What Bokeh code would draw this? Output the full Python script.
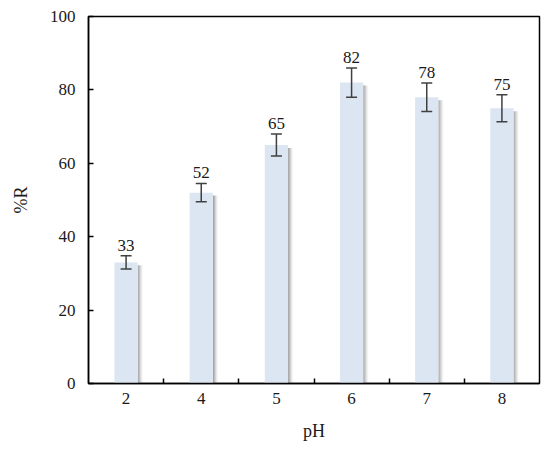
from bokeh.plotting import figure
from bokeh.models import ColumnDataSource, FixedTicker, Range1d, Whisker
from bokeh.core.properties import value
from bokeh.embed import file_html
from bokeh.resources import INLINE

ph_labels = ["2", "4", "5", "6", "7", "8"]
removal = [33, 52, 65, 82, 78, 75]
errors = [1.8, 2.5, 3.0, 4.0, 3.9, 3.7]
y_ticks = [0, 20, 40, 60, 80, 100]

xs = [i + 0.5 for i in range(len(ph_labels))]
upper = [v + e for v, e in zip(removal, errors)]
lower = [v - e for v, e in zip(removal, errors)]
src = ColumnDataSource(dict(x=xs, top=removal, upper=upper, lower=lower,
                            label=[str(v) for v in removal]))

FONT = "Liberation Serif"

p = figure(width=541, height=450, output_backend="svg", toolbar_location=None,
           x_range=Range1d(0, len(ph_labels)), y_range=Range1d(0, 100),
           min_border_left=88, min_border_right=2, min_border_top=16, min_border_bottom=67)

bw = 0.31
px = 1.0 / 75.0
# shadow
for k, a in enumerate([0.75, 0.55, 0.35, 0.18, 0.07]):
    sx = [x + bw / 2 + (k + 0.5) * px for x in xs]
    stop = [v - 0.8 for v in removal]
    p.vbar(x=sx, top=stop, width=px, bottom=0, fill_color="#7f7f7f", fill_alpha=a,
           line_color=None)

p.vbar(x="x", top="top", width=bw, source=src, fill_color="#dce6f2", line_color=None)

wh = Whisker(base="x", upper="upper", lower="lower", source=src,
             line_color="#404040", line_width=1.5, level="overlay")
wh.upper_head.line_color = "#404040"
wh.lower_head.line_color = "#404040"
wh.upper_head.line_width = 1.5
wh.lower_head.line_width = 1.5
wh.upper_head.size = 11
wh.lower_head.size = 11
p.add_layout(wh)

p.text(x="x", y="upper", text="label", source=src, text_align="center",
       text_baseline="bottom", y_offset=-5, text_font=value(FONT),
       text_font_size="17px", text_color="#1a1a1a")

p.xgrid.visible = False
p.ygrid.visible = False
p.outline_line_color = "black"
p.outline_line_width = 1.5

p.xaxis.ticker = FixedTicker(ticks=xs, minor_ticks=[1, 2, 3, 4, 5])
p.xaxis.major_label_overrides = {x: l for x, l in zip(xs, ph_labels)}
p.xaxis.major_tick_in = 0
p.xaxis.major_tick_out = 0
p.xaxis.minor_tick_in = 5
p.xaxis.minor_tick_out = 0
p.xaxis.minor_tick_line_color = "black"
p.xaxis.minor_tick_line_width = 1.5
p.xaxis.axis_label = "pH"
p.xaxis.major_label_standoff = 9

p.yaxis.ticker = FixedTicker(ticks=y_ticks, minor_ticks=[])
p.yaxis.major_tick_in = 5
p.yaxis.major_tick_out = 0
p.yaxis.major_tick_line_width = 1.5
p.yaxis.axis_label = "%R"
p.yaxis.major_label_standoff = 13

for ax in (p.xaxis, p.yaxis):
    ax.axis_line_color = "black"
    ax.axis_line_width = 1.5
    ax.major_tick_line_color = "black"
    ax.major_label_text_font = FONT
    ax.major_label_text_font_size = "17px"
    ax.major_label_text_color = "#1a1a1a"
    ax.axis_label_text_font = FONT
    ax.axis_label_text_font_size = "18px"
    ax.axis_label_text_font_style = "normal"
    ax.axis_label_text_color = "#1a1a1a"
p.xaxis.axis_label_standoff = 14
p.yaxis.axis_label_standoff = 16

open("out.html", "w").write(file_html(p, INLINE))
